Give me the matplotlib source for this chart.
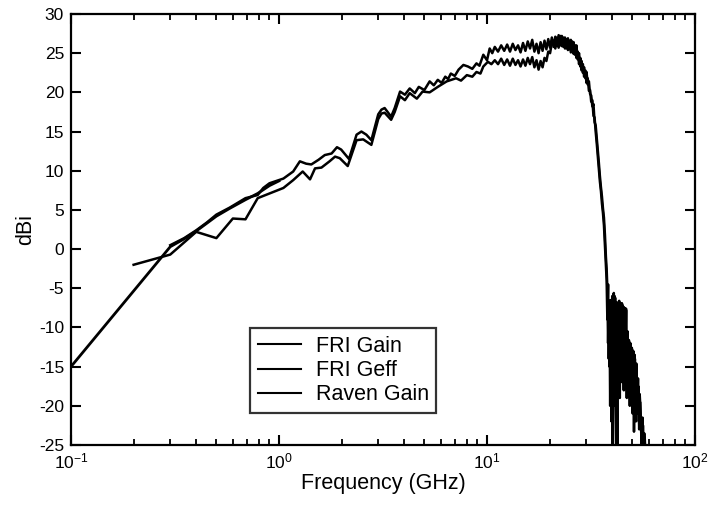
import matplotlib
matplotlib.use("Agg")
import matplotlib.pyplot as plt
from matplotlib.ticker import LogLocator, NullFormatter, MultipleLocator

plt.rcParams['font.family'] = ['Liberation Sans', 'DejaVu Sans']
plt.rcParams['axes.unicode_minus'] = False

# ---------------- data ----------------
raven_f = [0.1, 0.3, 0.35, 0.4, 0.45, 0.5, 0.58, 0.69, 0.79, 0.9, 1.0]
raven_g = [-15.0, 0.3, 1.3, 2.3, 3.3, 4.2, 5.2, 6.3, 7.1, 8.1, 8.7]

fri_gain_f = [0.3, 0.35, 0.4, 0.45, 0.5, 0.58, 0.69, 0.79, 0.84, 0.9, 1.05, 1.17, 1.26, 1.35,
              1.43, 1.55, 1.66, 1.79, 1.9, 1.99, 2.17, 2.36, 2.49, 2.63, 2.78, 3.0, 3.11, 3.22,
              3.46, 3.6, 3.82, 4.03, 4.25, 4.5, 4.7, 5.0, 5.3, 5.55, 5.8, 6.05, 6.3, 6.5, 6.7,
              7.0, 7.3, 7.7, 8.1, 8.5, 8.9, 9.2, 9.6, 10.0, 10.3, 10.6, 10.9,
              11.3, 11.7, 12.1, 12.5, 12.9, 13.3, 13.7, 14.1, 14.5, 14.9, 15.3, 15.7, 16.1, 16.5,
              16.9, 17.3, 17.7, 18.1, 18.5, 18.9, 19.3, 19.7, 20.1, 20.5, 20.9, 21.3, 21.7, 22.1,
              22.5, 22.9, 23.3, 23.7, 24.1, 24.5, 24.9, 25.3, 25.7, 26.1, 26.5, 26.9, 27.3, 27.7,
              28.1, 28.5, 28.9, 29.3, 29.7, 30.1, 30.5, 30.9, 31.3, 31.7, 32.1, 32.5, 32.9, 33.3,
              33.7, 34.1, 34.5, 34.9, 35.3, 35.7, 36.1, 36.5, 36.9, 37.3, 37.6, 37.9, 38.2, 38.5,
              38.8, 39.1, 39.4, 39.7, 40.0, 40.2, 40.5, 40.8, 41.1, 41.4, 41.8, 42.1, 42.4, 42.7,
              43.0, 43.3, 43.6, 43.9, 44.2, 44.6, 44.9, 45.2, 45.5, 45.8, 46.2, 46.6, 47.0, 47.4,
              47.8, 48.1, 48.5, 48.9, 49.3, 49.7, 50.1, 50.5, 50.9, 51.3, 51.8, 52.2, 52.7, 53.2,
              53.7, 54.2, 54.7, 55.2, 55.6, 56.2, 56.8, 57.3, 58.0]
fri_gain_g = [0.5, 1.4, 2.4, 3.4, 4.4, 5.3, 6.5, 6.9, 7.8, 8.4, 9.0, 9.9, 11.2, 10.9,
              10.8, 11.4, 12.0, 12.2, 13.0, 12.7, 11.5, 14.6, 15.0, 14.6, 13.9, 17.2, 17.8, 18.0,
              16.9, 18.0, 20.1, 19.7, 20.5, 19.9, 20.7, 20.3, 21.4, 20.9, 21.6, 21.2, 22.0, 21.7, 22.4,
              22.1, 22.9, 23.5, 23.3, 23.0, 23.7, 23.4, 24.8, 24.1, 25.6, 25.0, 25.8,
              25.2, 26.0, 25.3, 26.1, 25.2, 26.2, 25.4, 26.0, 25.1, 26.3, 25.3, 26.5, 25.6, 26.7,
              25.2, 26.2, 25.0, 26.4, 25.3, 26.6, 25.5, 26.8, 25.7, 27.0, 25.8, 27.1, 25.9, 27.3,
              26.0, 27.2, 25.8, 27.0, 25.6, 26.9, 25.5, 26.7, 25.2, 26.4, 24.8, 26.0, 24.2, 25.0,
              23.3, 24.0, 22.5, 23.2, 21.8, 22.6, 21.0, 21.4, 19.8, 19.6, 18.2, 18.5, 16.2, 15.8,
              14.2, 12.6, 11.0, 9.3, 7.9, 6.7, 5.2, 4.0, 1.8, -1.0, -2.5, -5.0, -12.0, -6.5,
              -15.0, -8.0, -18.0, -7.0, -12.0, -27.0, -5.8, -14.0, -6.0, -17.0, -27.0, -7.0, -13.0, -6.8,
              -18.0, -7.2, -12.0, -6.9, -15.0, -7.0, -12.0, -7.4, -18.0, -7.6, -13.0, -7.8, -16.0, -10.5,
              -17.0, -11.6, -19.0, -12.0, -18.0, -12.6, -20.0, -13.0, -23.3, -13.5, -20.0, -14.6, -21.0, -16.5,
              -22.0, -18.5, -20.5, -23.0, -27.0, -22.5, -26.0, -24.0, -27.0]

fri_geff_f = [0.2, 0.3, 0.4, 0.5, 0.6, 0.69, 0.79, 0.9, 1.05, 1.17, 1.3, 1.41, 1.49, 1.6,
              1.75, 1.86, 1.96, 2.14, 2.36, 2.54, 2.78, 3.0, 3.11, 3.22, 3.46, 3.6, 3.82, 4.03,
              4.25, 4.6, 4.9, 5.3, 5.8, 6.4, 7.1, 7.5, 8.0, 8.5, 8.9, 9.3, 9.6, 10.1, 10.5, 10.9,
              11.3, 11.7, 12.1, 12.5, 12.9, 13.3, 13.7, 14.1, 14.5, 14.9, 15.3, 15.7, 16.1, 16.5,
              16.9, 17.3, 17.7, 18.1, 18.5, 18.9, 19.3, 19.7, 20.1, 20.5, 20.9, 21.3, 21.7, 22.1,
              22.5, 22.9, 23.3, 23.7, 24.1, 24.5, 24.9, 25.3, 25.7, 26.1, 26.5, 26.9, 27.3, 27.7,
              28.1, 28.5, 28.9, 29.3, 29.7, 30.1, 30.5, 30.9, 31.3, 31.7, 32.1, 32.5, 32.9, 33.3,
              33.7, 34.1, 34.5, 34.9, 35.3, 35.7, 36.1, 36.5, 36.9, 37.3, 37.6, 37.9, 38.2, 38.5,
              38.8, 39.1, 39.4, 39.7, 40.0, 40.4, 40.7, 41.0, 41.3, 41.6, 41.9, 42.3, 42.6, 42.9,
              43.2, 43.5, 43.8, 44.1, 44.5, 44.8, 45.1, 45.5, 45.8, 46.2, 46.6, 47.0, 47.4, 47.8,
              48.2, 48.6, 49.0, 49.4, 49.8, 50.2, 50.6, 51.0, 51.4, 51.9, 52.4, 52.9, 53.4, 53.9,
              54.4, 54.9, 55.4, 55.9, 56.5, 57.0, 57.6]
fri_geff_g = [-2.0, -0.7, 2.2, 1.4, 3.9, 3.8, 6.5, 7.1, 7.8, 8.8, 9.9, 8.9, 10.3, 10.4,
              11.2, 11.8, 11.6, 10.6, 13.9, 14.0, 13.3, 16.6, 17.3, 17.4, 16.5, 17.5, 19.5, 19.0,
              19.9, 19.2, 20.1, 20.0, 20.7, 21.4, 21.8, 21.5, 22.2, 22.0, 22.6, 22.4, 23.3, 23.9, 23.6, 24.1,
              23.6, 24.3, 23.5, 24.2, 23.4, 24.3, 23.5, 24.1, 23.3, 24.2, 23.4, 24.4, 23.6, 24.5,
              23.2, 24.1, 22.9, 24.0, 23.2, 24.4, 24.0, 25.2, 25.0, 26.3, 26.6, 25.6, 27.0, 25.7,
              27.2, 25.9, 27.0, 25.6, 26.8, 25.4, 26.6, 25.1, 26.5, 24.9, 26.0, 24.4, 25.2, 23.6,
              24.4, 22.8, 23.6, 22.0, 22.8, 21.2, 21.8, 20.2, 20.3, 18.8, 19.0, 17.0, 16.8, 15.0,
              13.5, 11.8, 10.2, 8.6, 7.4, 5.8, 4.6, 3.0, 0.5, -2.0, -4.0, -9.0, -4.5, -14.0,
              -7.0, -20.0, -6.5, -22.0, -6.0, -16.0, -5.6, -20.0, -6.2, -15.0, -6.8, -27.0, -7.0, -14.0,
              -6.6, -19.0, -7.0, -13.0, -6.9, -17.0, -7.3, -18.0, -7.5, -15.0, -7.6, -19.0, -11.0, -15.0,
              -11.8, -20.0, -12.2, -16.0, -12.8, -21.0, -13.2, -19.0, -14.0, -22.0, -15.5, -20.0, -17.5, -23.0,
              -19.5, -22.0, -25.0, -21.5, -27.0, -23.5, -27.0]

legend_labels = ["FRI Gain", "FRI Geff", "Raven Gain"]
x_label = "Frequency (GHz)"
y_label = "dBi"

# ---------------- figure ----------------
fig = plt.figure(figsize=(7.19, 5.08), dpi=100)
ax = fig.add_axes([71 / 719, 1 - 445 / 508, (695 - 71) / 719, (445 - 14) / 508])

ax.plot(fri_gain_f, fri_gain_g, color='black', lw=1.8, label=legend_labels[0])
ax.plot(fri_geff_f, fri_geff_g, color='black', lw=1.8, label=legend_labels[1])
ax.plot(raven_f, raven_g, color='black', lw=2.0, label=legend_labels[2])

ax.set_xscale('log')
ax.set_xlim(0.1, 100)
ax.set_ylim(-25, 30)
ax.yaxis.set_major_locator(MultipleLocator(5))
ax.xaxis.set_major_locator(LogLocator(base=10, numticks=10))
ax.xaxis.set_minor_locator(LogLocator(base=10, subs=range(2, 10), numticks=20))
ax.xaxis.set_minor_formatter(NullFormatter())

ax.tick_params(which='both', direction='in', top=True, right=True, labelsize=12.5, pad=5)
ax.tick_params(which='major', length=7, width=1.5)
ax.tick_params(which='minor', length=4, width=1.3)
for s in ax.spines.values():
    s.set_linewidth(1.6)

ax.set_xlabel(x_label, fontsize=15.5, labelpad=1)
ax.set_ylabel(y_label, fontsize=15.5, labelpad=2)

leg = ax.legend(loc='lower left', bbox_to_anchor=((250 - 71) / 624, (445 - 413) / 431),
                fontsize=15.5, frameon=True, fancybox=False, edgecolor='black',
                handlelength=2.0, handletextpad=0.7, borderpad=0.35, labelspacing=0.15,
                borderaxespad=0)
leg.get_frame().set_linewidth(1.6)
for ln in leg.get_lines():
    ln.set_linewidth(1.5)

fig.savefig("out.png", dpi=100)
